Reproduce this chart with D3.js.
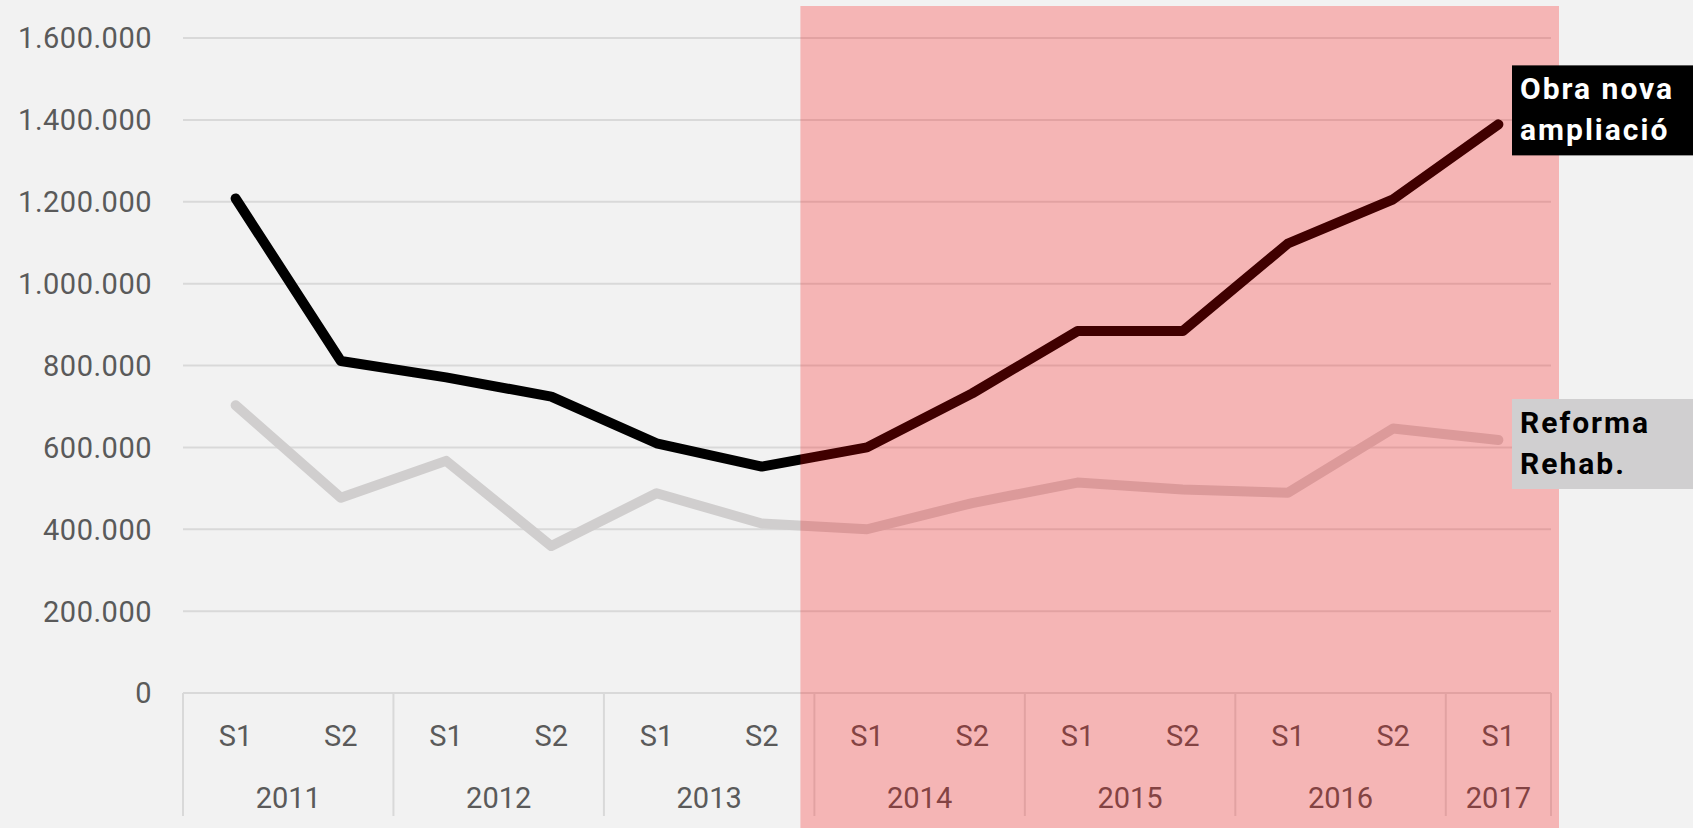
<!DOCTYPE html>
<html>
<head>
<meta charset="utf-8">
<script src="https://cdn.jsdelivr.net/npm/d3@7"></script>
<style>
  html, body { margin: 0; padding: 0; background: #f2f2f2; }
  svg { display: block; font-family: Roboto, "DejaVu Sans", sans-serif; }
</style>
</head>
<body>
<svg id="chart" width="1693" height="828"></svg>
<script>
// semesters and values (euros)
var years = ["2011", "2011", "2012", "2012", "2013", "2013", "2014", "2014", "2015", "2015", "2016", "2016", "2017"];
var semesters = ["S1", "S2", "S1", "S2", "S1", "S2", "S1", "S2", "S1", "S2", "S1", "S2", "S1"];
var obraNova = [1208000, 811000, 771000, 724000, 610000, 553000, 600000, 732000, 884000, 884000, 1098000, 1206000, 1389000];
var reforma = [703000, 477000, 567000, 359000, 488000, 414000, 400000, 464000, 514000, 497000, 489000, 646000, 618000];
var yTicks = [0, 200000, 400000, 600000, 800000, 1000000, 1200000, 1400000, 1600000];
var highlightFrom = "2014";

var periods = years.map(function (y, i) { return y + "-" + semesters[i]; });

var svg = d3.select("#chart");

var x = d3.scaleBand().domain(periods).range([183, 1551]);
var y = d3.scaleLinear().domain([0, 1600000]).range([693, 38]);

var loc = d3.formatLocale({ decimal: ",", thousands: ".", grouping: [3], currency: ["", "€"] });
var fmt = loc.format(",d");

// grid
svg.append("g")
    .selectAll("line")
    .data(yTicks)
    .enter()
    .append("line")
    .attr("x1", x.range()[0])
    .attr("x2", x.range()[1])
    .attr("y1", d => y(d))
    .attr("y2", d => y(d))
    .attr("stroke", "#d9d9d9")
    .attr("stroke-width", 2);

// y labels
svg.append("g")
    .selectAll("text")
    .data(yTicks)
    .enter()
    .append("text")
    .attr("x", 152)
    .attr("y", d => y(d))
    .attr("dy", "0.36em")
    .attr("text-anchor", "end")
    .attr("fill", "#5a5a5a")
    .attr("font-size", 29)
    .attr("letter-spacing", 0.5)
    .text(d => fmt(d));

// x axis: semester labels
svg.append("g")
    .selectAll("text")
    .data(periods)
    .enter()
    .append("text")
    .attr("x", d => x(d) + x.bandwidth() / 2)
    .attr("y", 746)
    .attr("text-anchor", "middle")
    .attr("fill", "#5a5a5a")
    .attr("font-size", 29)
    .text((d, i) => semesters[i]);

// year groups
var yearGroups = d3.groups(periods, d => d.split("-")[0]);
var yg = svg.append("g");
yearGroups.forEach(function (g) {
    var x0 = x(g[1][0]);
    var x1 = x(g[1][g[1].length - 1]) + x.bandwidth();
    yg.append("text")
        .attr("x", (x0 + x1) / 2)
        .attr("y", 808)
        .attr("text-anchor", "middle")
        .attr("fill", "#5a5a5a")
        .attr("font-size", 29)
        .text(g[0]);
    yg.append("line")
        .attr("x1", x0).attr("x2", x0)
        .attr("y1", y(0)).attr("y2", 816)
        .attr("stroke", "#d9d9d9").attr("stroke-width", 2);
});
yg.append("line")
    .attr("x1", x.range()[1]).attr("x2", x.range()[1])
    .attr("y1", y(0)).attr("y2", 816)
    .attr("stroke", "#d9d9d9").attr("stroke-width", 2);

// lines
var line = d3.line()
    .x((d, i) => x(periods[i]) + x.bandwidth() / 2)
    .y(d => y(d));

svg.append("path")
    .datum(reforma)
    .attr("d", line)
    .attr("fill", "none")
    .attr("stroke", "#d0cece")
    .attr("stroke-width", 10)
    .attr("stroke-linejoin", "round")
    .attr("stroke-linecap", "round");

svg.append("path")
    .datum(obraNova)
    .attr("d", line)
    .attr("fill", "none")
    .attr("stroke", "#000")
    .attr("stroke-width", 10)
    .attr("stroke-linejoin", "round")
    .attr("stroke-linecap", "round");

// highlighted period
var hStart = periods.indexOf(highlightFrom + "-S1");
svg.append("rect")
    .attr("x", x(periods[hStart]) - 14)
    .attr("y", 6)
    .attr("width", x.range()[1] + 8 - (x(periods[hStart]) - 14))
    .attr("height", 828)
    .attr("fill", "rgba(255,0,0,0.25)");

// series labels
var last = periods.length - 1;
var labels = [
    { lines: ["Obra nova", "ampliació"], v: obraNova[last], off: -59, bg: "#000", fg: "#fff" },
    { lines: ["Reforma", "Rehab."], v: reforma[last], off: -41, bg: "#d0cfd0", fg: "#000" }
];
labels.forEach(function (l) {
    var top = y(l.v) + l.off;
    var g = svg.append("g").attr("transform", "translate(1512," + top + ")");
    g.append("rect")
        .attr("width", 200)
        .attr("height", 90)
        .attr("fill", l.bg);
    g.selectAll("text")
        .data(l.lines)
        .enter()
        .append("text")
        .attr("x", 8)
        .attr("y", (d, i) => 34 + i * 41)
        .attr("fill", l.fg)
        .attr("font-size", 30)
        .attr("font-weight", "bold")
        .attr("letter-spacing", 2)
        .text(d => d);
});
</script>
</body>
</html>
